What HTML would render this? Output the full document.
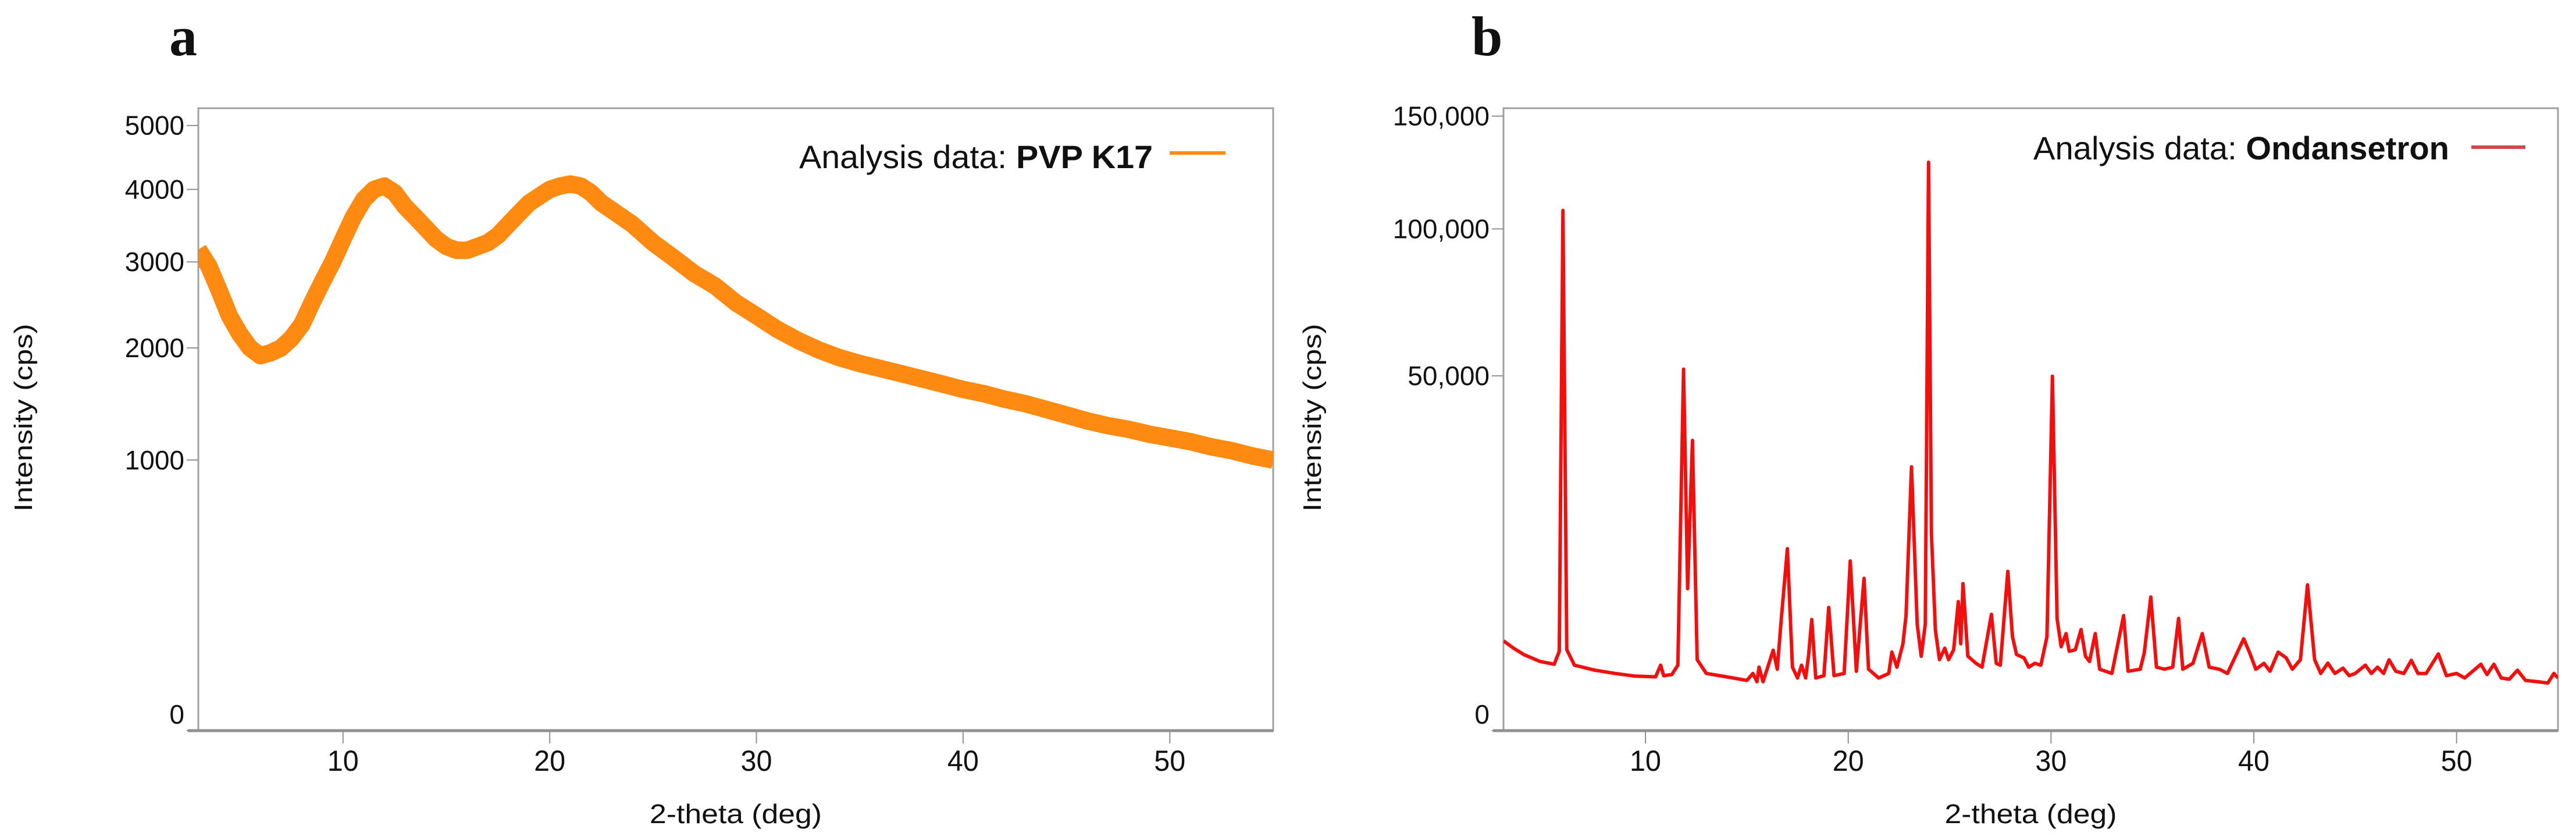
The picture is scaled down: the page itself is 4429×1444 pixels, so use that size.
<!DOCTYPE html>
<html><head><meta charset="utf-8"><style>
html,body{margin:0;padding:0;background:#fff;}
svg{display:block;}
text{font-family:"Liberation Sans",sans-serif;fill:#111;}
</style></head><body>
<svg id="fig" width="4429" height="1444" viewBox="0 0 4429 1444" xmlns="http://www.w3.org/2000/svg">
<text x="291" y="95" style="font-family:'Liberation Serif',serif;font-weight:bold;font-size:96px">a</text>
<text x="2530" y="95" style="font-family:'Liberation Serif',serif;font-weight:bold;font-size:96px">b</text>
<g id="pa"></g>
<g id="pb"></g>
</svg>
<script>
// ---- Panel a data (PVP K17) ----
const aTheta = [3,3.5,4,4.5,5,5.5,6,6.5,7,7.5,8,8.5,9,9.5,10,10.5,11,11.5,12,12.5,13,13.5,14,14.5,15,15.5,16,16.5,17,17.5,18,18.5,19,19.5,20,20.5,21,21.5,22,22.5,23,24,25,26,27,28,29,30,31,32,33,34,35,36,37,38,39,40,41,42,43,44,45,46,47,48,49,50,51,52,53,54,55];
const aIntensity = [3160,2950,2650,2350,2150,2000,1920,1950,2000,2100,2250,2500,2750,3000,3300,3600,3850,4000,4050,3950,3750,3600,3450,3300,3200,3150,3150,3200,3250,3350,3500,3650,3800,3900,4000,4050,4080,4050,3950,3800,3700,3500,3250,3050,2850,2700,2500,2350,2200,2080,1980,1900,1840,1790,1740,1690,1640,1590,1550,1500,1460,1410,1360,1310,1270,1240,1200,1170,1140,1100,1070,1030,1000];
const aYTicks = [0,1000,2000,3000,4000,5000];
const aYTickLabels = ["0","1000","2000","3000","4000","5000"];
// ---- Panel b data (Ondansetron) ----
const bTheta = [3.0,3.5,4,4.8,5.5,5.75,5.93,6.12,6.5,7.5,8.5,9.5,10.5,10.75,10.9,11.3,11.6,11.88,12.08,12.32,12.55,13,14,15,15.3,15.5,15.6,15.8,16.3,16.5,16.7,17.0,17.25,17.5,17.7,17.9,18.05,18.2,18.4,18.8,19.04,19.3,19.8,20.1,20.4,20.78,21.0,21.5,22.0,22.15,22.4,22.7,22.85,23.12,23.4,23.6,23.8,23.96,24.1,24.3,24.5,24.76,24.95,25.2,25.43,25.55,25.66,25.9,26.3,26.6,27.06,27.3,27.5,27.87,28.1,28.3,28.67,28.9,29.2,29.5,29.8,30.07,30.3,30.5,30.74,30.9,31.2,31.48,31.7,31.9,32.18,32.4,33.0,33.58,33.8,34.4,34.6,34.92,35.2,35.6,36.0,36.29,36.5,37,37.46,37.8,38.3,38.7,39.5,39.8,40.1,40.5,40.8,41.2,41.6,41.9,42.3,42.65,43.0,43.3,43.65,44,44.4,44.7,45,45.5,45.8,46.1,46.4,46.67,47,47.4,47.77,48.1,48.5,49.1,49.5,50.0,50.4,51.2,51.5,51.84,52.2,52.6,53.0,53.4,54,54.5,54.8,55];
const bIntensity = [3200,2700,2300,1900,1750,2500,107500,2600,1700,1450,1300,1180,1150,1700,1200,1250,1700,51900,8000,33460,2000,1300,1150,1000,1300,950,1600,950,2570,1500,5000,13140,1600,1100,1700,1100,2300,4900,1100,1200,6030,1200,1300,11440,1400,9210,1500,1100,1300,2450,1600,3000,5260,27650,4500,2200,4500,128300,15500,4000,2000,2700,2000,2600,6610,3000,8590,2200,1800,1600,5370,1800,1700,10080,3500,2300,2100,1600,1800,1700,3500,49900,5000,2800,3740,2500,2600,4060,2200,1900,3740,1500,1300,5260,1400,1500,2400,7090,1600,1500,1600,5000,1500,1800,3740,1600,1500,1300,3350,2400,1500,1800,1400,2450,2100,1500,2000,8450,2000,1300,1810,1300,1550,1200,1300,1700,1300,1600,1300,1990,1400,1300,1960,1300,1300,2340,1200,1300,1100,1750,1250,1750,1100,1050,1450,1000,950,900,1300,1100];
const bYTicks = [0,50000,100000,150000];
const bYTickLabels = ["0","50,000","100,000","150,000"];
// ---- shared x ticks ----
const xTicks = [10,20,30,40,50];
const xTickLabels = ["10","20","30","40","50"];

const NS = "http://www.w3.org/2000/svg";
function mk(parent, tag, attrs, txt){
  const e = document.createElementNS(NS, tag);
  for (const k in attrs) e.setAttribute(k, attrs[k]);
  if (txt !== undefined) e.textContent = txt;
  parent.appendChild(e);
  return e;
}

function drawPanel(g, cfg){
  const {left,right,top,bottom,xMin,xMax,yMax,theta,inten,yTicks,yLabels,color,sw,legendPre,legendName,legX,legW,legY,lineX1,lineX2,lineY,lineColor,ytitleX} = cfg;
  const xs = v => left + (v - xMin) / (xMax - xMin) * (right - left);
  const ys = v => bottom - Math.sqrt(Math.max(v,0)) / Math.sqrt(yMax) * (bottom - top);
  // frame
  const frame = mk(g,'rect',{x:left,y:top,width:right-left,height:bottom-top,fill:'none',stroke:'#a0a0a0','stroke-width':3});
  
  
  const xa = mk(g,'line',{x1:left-18,y1:bottom,x2:right,y2:bottom,stroke:'#909090','stroke-width':5});
  
  
  // y ticks
  yTicks.forEach((t,i)=>{
    const y = ys(t);
    const tk = mk(g,'line',{x1:left-20,y1:y,x2:left,y2:y,stroke:'#909090','stroke-width':2});
    
    
    const ly = t===0 ? y-12 : y+16;
    const lb = mk(g,'text',{x:left-24,y:ly,'text-anchor':'end','font-size':46}, yLabels[i]);
    
    
  });
  // x ticks
  xTicks.forEach((t,i)=>{
    const x = xs(t);
    const tk = mk(g,'line',{x1:x,y1:bottom,x2:x,y2:bottom+22,stroke:'#909090','stroke-width':2});
    
    
    const lb = mk(g,'text',{x:x,y:1325,'text-anchor':'middle','font-size':50,textLength:54,lengthAdjust:'spacingAndGlyphs'}, xTickLabels[i]);
    
    
  });
  // titles
  const xt = mk(g,'text',{x:(left+right)/2,y:1415,'text-anchor':'middle','font-size':46,textLength:296,lengthAdjust:'spacingAndGlyphs'},'2-theta (deg)');
  
  
  const yt = mk(g,'text',{x:0,y:0,'text-anchor':'middle','font-size':44,textLength:323,lengthAdjust:'spacingAndGlyphs',transform:`translate(${ytitleX+15},718) rotate(-90)`},'Intensity (cps)');
  
  
  // series
  const d = theta.map((t,i)=>(i?'L':'M')+xs(t).toFixed(1)+','+ys(inten[i]).toFixed(1)).join(' ');
  const cp = mk(g,'clipPath',{id:cfg.id+'clip'});
  mk(cp,'rect',{x:left,y:top,width:right-left,height:bottom-top});
  const p = mk(g,'path',{d:d,fill:'none',stroke:color,'stroke-width':sw,'stroke-linejoin':'round','stroke-linecap':'butt','clip-path':`url(#${cfg.id}clip)`});
  
  
  // legend
  const lt = mk(g,'text',{x:legX,y:legY,'font-size':56,textLength:legW,lengthAdjust:'spacingAndGlyphs'});
  
  
  mk(lt,'tspan',{},legendPre);
  mk(lt,'tspan',{'font-weight':'bold'},legendName);
  const ll = mk(g,'line',{x1:lineX1,y1:lineY,x2:lineX2,y2:lineY,stroke:lineColor,'stroke-width':6});
  
  
}

drawPanel(document.getElementById('pa'),{id:'a',left:341,right:2189,top:186,bottom:1256,xMin:3,xMax:55,yMax:5290,
  theta:aTheta,inten:aIntensity,yTicks:aYTicks,yLabels:aYTickLabels,color:'#ff8a12',sw:30,
  legendPre:'Analysis data: ',legendName:'PVP K17',legX:1374,legW:608,legY:289,lineX1:2011,lineX2:2107,lineY:263,lineColor:'#ff8a12',ytitleX:40});
drawPanel(document.getElementById('pb'),{id:'b',left:2585,right:4398,top:186,bottom:1256,xMin:3,xMax:55,yMax:153900,
  theta:bTheta,inten:bIntensity,yTicks:bYTicks,yLabels:bYTickLabels,color:'#f01010',sw:6,
  legendPre:'Analysis data: ',legendName:'Ondansetron',legX:3496,legW:715,legY:274,lineX1:4249,lineX2:4342,lineY:253,lineColor:'#d04848',ytitleX:2256});
</script>
</body></html>
